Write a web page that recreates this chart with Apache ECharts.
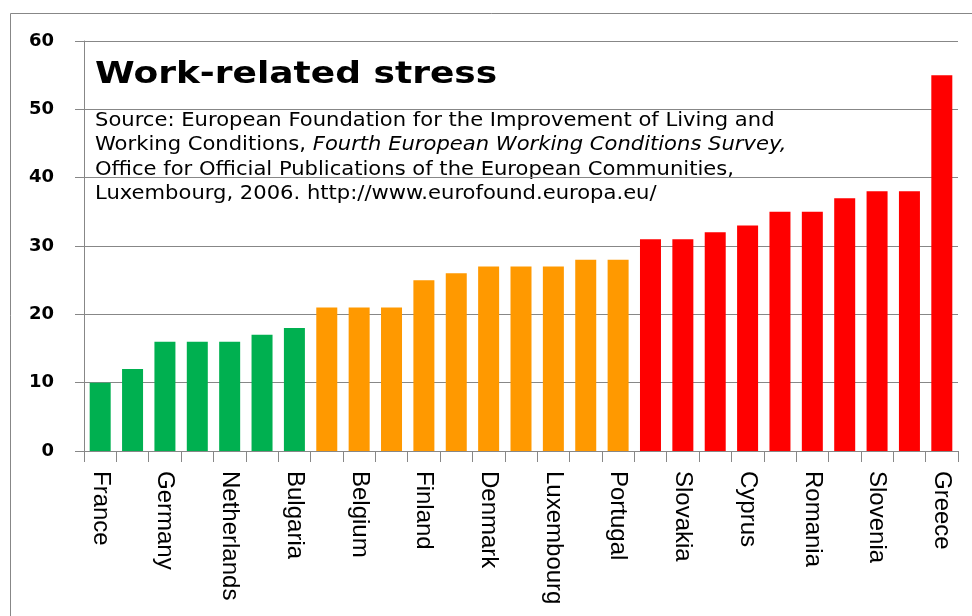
<!DOCTYPE html>
<html>
<head>
<meta charset="utf-8">
<script src="https://cdn.jsdelivr.net/npm/echarts@6/dist/echarts.min.js"></script>
<style>
  html, body { margin: 0; padding: 0; background: #fff; }
  #chart { width: 972px; height: 616px; }
</style>
</head>
<body>
<div id="chart"></div>
<script>
// Share of workers reporting work-related stress (%), EU countries, ascending
const countries = [
  'France', 'United Kingdom', 'Germany', 'Ireland', 'Netherlands', 'Italy', 'Bulgaria',
  'Austria', 'Belgium', 'Spain', 'Finland', 'Estonia', 'Denmark', 'Hungary',
  'Luxembourg', 'Czech Republic', 'Portugal', 'Malta', 'Slovakia', 'Poland',
  'Cyprus', 'Lithuania', 'Romania', 'Latvia', 'Slovenia', 'Sweden', 'Greece'
];
const stressShare = [
  10, 12, 16, 16, 16, 17, 18,
  21, 21, 21, 25, 26, 27, 27,
  27, 28, 28, 31, 31, 32,
  33, 35, 35, 37, 38, 38, 55
];
const yTicks = [0, 10, 20, 30, 40, 50, 60];

const chartTitle = 'Work-related stress';
const sourceLines = [
  [['Source: European Foundation for the Improvement of Living and', 'n']],
  [['Working Conditions, ', 'n'], ['Fourth European Working Conditions Survey,', 'i']],
  [['Office for Official Publications of the European Communities,', 'n']],
  [['Luxembourg, 2006. http://www.eurofound.europa.eu/', 'n']]
];

const GREY = '#878787';
const sourceText = sourceLines
  .map(line => line.map(([txt, st]) => '{' + st + '|' + txt + '}').join(''))
  .join('\n');

const chart = echarts.init(document.getElementById('chart'), null, { renderer: 'canvas' });

chart.setOption({
  animation: false,
  backgroundColor: '#ffffff',
  grid: { left: 84, right: 14, top: 41, bottom: 165, containLabel: false },
  xAxis: {
    type: 'category',
    data: countries,
    boundaryGap: true,
    axisLine: { show: true, lineStyle: { color: GREY, width: 1 } },
    axisTick: { show: true, interval: 0, length: 11, alignWithLabel: false, lineStyle: { color: GREY, width: 1 } },
    axisLabel: {
      interval: 1,
      rotate: -90,
      margin: 20,
      color: '#000',
      fontFamily: 'Liberation Sans',
      fontSize: 24
    },
    splitLine: { show: false }
  },
  yAxis: {
    type: 'value',
    min: yTicks[0],
    max: yTicks[yTicks.length - 1],
    interval: yTicks[1] - yTicks[0],
    axisLine: { show: true, lineStyle: { color: GREY, width: 1 } },
    axisTick: { show: true, length: 9, lineStyle: { color: GREY, width: 1 } },
    axisLabel: {
      margin: 30,
      color: '#000',
      fontFamily: 'DejaVu Sans',
      fontWeight: 'bold',
      fontSize: 18
    },
    splitLine: { show: true, lineStyle: { color: GREY, width: 1 } }
  },
  visualMap: {
    show: false,
    type: 'piecewise',
    seriesIndex: 0,
    pieces: [
      { lt: 20, color: '#00B050' },
      { gte: 20, lt: 30, color: '#FF9900' },
      { gte: 30, color: '#FF0000' }
    ]
  },
  series: [{
    type: 'bar',
    data: stressShare,
    barWidth: 21,
    itemStyle: { borderWidth: 0 }
  }],
  graphic: [
    {
      type: 'rect',
      silent: true,
      shape: { x: 10.5, y: 13.5, width: 1000, height: 700 },
      style: { fill: 'none', stroke: GREY, lineWidth: 1 }
    },
    {
      type: 'text',
      x: 95,
      y: 75.5,
      scaleX: 1.2,
      style: {
        text: chartTitle,
        fill: '#000',
        font: 'bold 30px "DejaVu Sans"',
        align: 'left',
        verticalAlign: 'middle'
      }
    },
    {
      type: 'text',
      x: 95,
      y: 108.5,
      scaleX: 1.11,
      style: {
        text: sourceText,
        align: 'left',
        verticalAlign: 'top',
        rich: {
          n: { fontFamily: 'DejaVu Sans', fontSize: 19, lineHeight: 24.5, fill: '#000', color: '#000' },
          i: { fontFamily: 'DejaVu Sans', fontStyle: 'italic', fontSize: 19, lineHeight: 24.5, fill: '#000', color: '#000' }
        }
      }
    }
  ]
});
</script>
</body>
</html>
